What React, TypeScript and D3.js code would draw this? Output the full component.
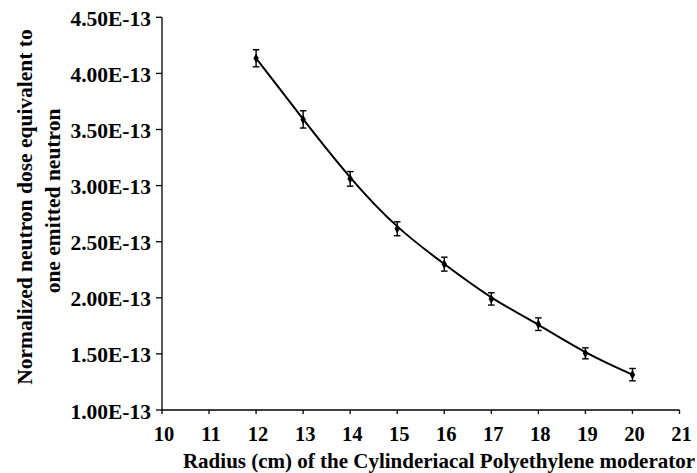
import React from "react";
import * as d3 from "d3";

const radius = [12, 13, 14, 15, 16, 17, 18, 19, 20];
const dose = [4.135e-13, 3.59e-13, 3.06e-13, 2.615e-13, 2.3e-13, 1.99e-13, 1.765e-13, 1.505e-13, 1.315e-13];
const doseErr = [0.076e-13, 0.077e-13, 0.065e-13, 0.062e-13, 0.062e-13, 0.055e-13, 0.056e-13, 0.049e-13, 0.055e-13];
const xTicks = [10, 11, 12, 13, 14, 15, 16, 17, 18, 19, 20, 21];
const yTicks = [1.0e-13, 1.5e-13, 2.0e-13, 2.5e-13, 3.0e-13, 3.5e-13, 4.0e-13, 4.5e-13];
const xTitle = "Radius (cm) of the Cylinderiacal Polyethylene moderator";
const yTitle1 = "Normalized neutron dose equivalent to";
const yTitle2 = "one emitted neutron";

const W = 697;
const H = 473;
const FONT = '"Liberation Serif", "Times New Roman", serif';

export default function App() {
  const x = d3.scaleLinear().domain([10, 21]).range([162, 679.5]);
  const y = d3.scaleLinear().domain([1.0e-13, 4.5e-13]).range([410, 17.3]);
  const pts: [number, number][] = radius.map((r, i) => [x(r), y(dose[i])]);
  const line = d3.line().curve(d3.curveBasis)(pts) || "";
  const fmt = (v: number) => (v / 1e-13).toFixed(2) + "E-13";
  const diamond = d3.symbol().type(d3.symbolDiamond).size(26)() || "";

  return (
    <svg
      width={W}
      height={H}
      style={{ position: "absolute", left: 0, top: 0, background: "#fff" }}
      fontFamily={FONT}
      fontWeight="bold"
    >
      <rect x={0} y={0} width={W} height={H} fill="#fff" />
      {/* y axis */}
      <line x1={x(10)} x2={x(10)} y1={y(4.5e-13)} y2={y(1e-13)} stroke="#000" strokeWidth={1.3} />
      {yTicks.map((t) => (
        <g key={t}>
          <line x1={x(10) - 6} x2={x(10)} y1={y(t)} y2={y(t)} stroke="#000" strokeWidth={1.3} />
          <text x={151} y={y(t) + 8.5} textAnchor="end" fontSize={21.5}>
            {fmt(t)}
          </text>
        </g>
      ))}
      {/* x axis */}
      <line x1={x(10)} x2={x(21)} y1={y(1e-13)} y2={y(1e-13)} stroke="#000" strokeWidth={1.3} />
      {xTicks.map((t) => (
        <g key={t}>
          <line x1={x(t)} x2={x(t)} y1={y(1e-13)} y2={y(1e-13) + 4} stroke="#000" strokeWidth={1.3} />
          <text x={x(t) + 2} y={441} textAnchor="middle" fontSize={20.5}>
            {t}
          </text>
        </g>
      ))}
      {/* titles */}
      <text x={439} y={468} textAnchor="middle" fontSize={21}>
        {xTitle}
      </text>
      <text transform={`translate(32,207) rotate(-90)`} textAnchor="middle" fontSize={21.5}>
        {yTitle1}
      </text>
      <text transform={`translate(59.5,201) rotate(-90)`} textAnchor="middle" fontSize={21.5}>
        {yTitle2}
      </text>
      {/* curve */}
      <path d={line} fill="none" stroke="#000" strokeWidth={2} />
      {/* error bars */}
      {radius.map((r, i) => {
        const cx = x(r);
        const y1 = y(dose[i] + doseErr[i]);
        const y2 = y(dose[i] - doseErr[i]);
        return (
          <g key={r} stroke="#000" strokeWidth={1.4}>
            <line x1={cx} x2={cx} y1={y1} y2={y2} />
            <line x1={cx - 3.3} x2={cx + 3.3} y1={y1} y2={y1} />
            <line x1={cx - 3.3} x2={cx + 3.3} y1={y2} y2={y2} />
          </g>
        );
      })}
      {/* markers */}
      {pts.map(([px, py], i) => (
        <path key={i} d={diamond} transform={`translate(${px},${py})`} fill="#000" />
      ))}
    </svg>
  );
}
